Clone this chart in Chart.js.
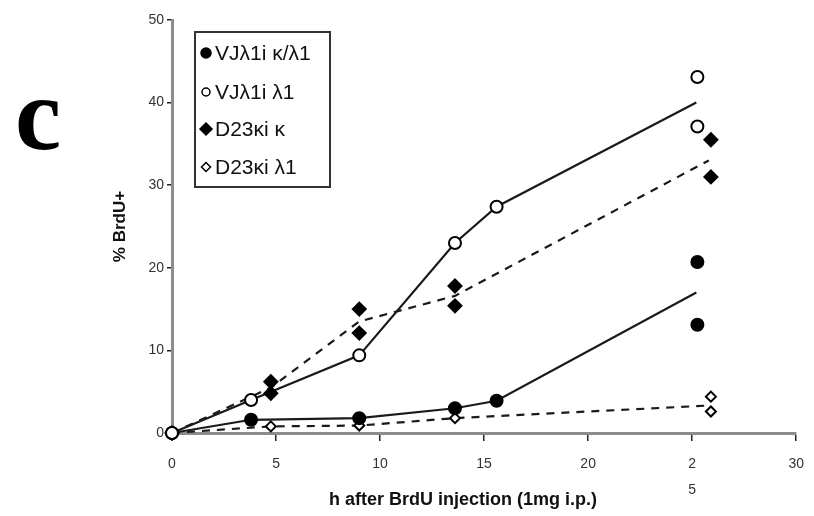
<!DOCTYPE html>
<html>
<head>
<meta charset="utf-8">
<script src="https://cdn.jsdelivr.net/npm/chart.js@4.4.0/dist/chart.umd.js"></script>
<style>
  body { margin: 0; background: #fff; }
  .wrap { position: relative; width: 814px; height: 516px; }
</style>
</head>
<body>
<div class="wrap"><canvas id="chart" width="814" height="516"></canvas></div>
<script>
// hours after BrdU injection, and % BrdU+
const vjKL_x = [0, 3.8, 9, 13.6, 15.6, 25.25, 25.25];
const vjKL_y = [0, 1.6, 1.8, 3.0, 3.9, 20.7, 13.1];
const vjKL_lineX = [0, 3.8, 9, 13.6, 15.6, 25.2];
const vjKL_lineY = [0, 1.6, 1.8, 3.0, 3.9, 17.0];

const vjL_x = [0, 3.8, 9, 13.6, 15.6, 25.25, 25.25];
const vjL_y = [0, 4.0, 9.4, 23.0, 27.4, 43.1, 37.1];
const vjL_lineX = [0, 3.8, 9, 13.6, 15.6, 25.2];
const vjL_lineY = [0, 4.0, 9.4, 23.0, 27.4, 40.0];

const d23K_x = [0, 4.75, 4.75, 9, 9, 13.6, 13.6, 25.9, 25.9];
const d23K_y = [0, 6.2, 4.8, 15.0, 12.1, 17.8, 15.4, 35.5, 31.0];
const d23K_lineX = [0, 4.75, 9, 13.6, 25.8];
const d23K_lineY = [0, 5.5, 13.5, 16.6, 33.0];

const d23L_x = [0, 4.75, 9, 13.6, 25.9, 25.9];
const d23L_y = [0, 0.8, 0.9, 1.8, 4.4, 2.6];
const d23L_lineX = [0, 4.75, 9, 13.6, 25.6];
const d23L_lineY = [0, 0.8, 0.9, 1.8, 3.3];

const seriesNames = ['VJλ1i κ/λ1', 'VJλ1i λ1', 'D23κi κ', 'D23κi λ1'];
const xTicks = [0, 5, 10, 15, 20, 25, 30];
const yTicks = [0, 10, 20, 30, 40, 50];

const pts = (xs, ys) => xs.map((x, i) => ({x, y: ys[i]}));

const lineSet = (xs, ys, dash) => ({
  data: pts(xs, ys),
  showLine: true,
  borderColor: '#1a1a1a',
  borderWidth: 2.2,
  borderDash: dash,
  pointRadius: 0,
  fill: false,
  clip: false,
  order: 5,
});

const markerSet = (label, xs, ys, style, fill, radius, order) => ({
  label,
  data: pts(xs, ys),
  showLine: false,
  pointStyle: style,
  pointRadius: radius,
  pointBackgroundColor: fill,
  pointBorderColor: '#000',
  pointBorderWidth: 2,
  clip: false,
  order,
});

// legend box, panel letter and x title drawn on the canvas
const extras = {
  id: 'extras',
  afterDraw(chart) {
    const ctx = chart.ctx;
    ctx.save();
    // panel letter
    ctx.fillStyle = '#000';
    ctx.font = 'bold 104px "Liberation Serif", "Times New Roman", serif';
    ctx.textAlign = 'left';
    ctx.textBaseline = 'alphabetic';
    ctx.fillText('c', 15, 149);

    // x axis title
    ctx.font = 'bold 18px "Liberation Sans", Arial, sans-serif';
    ctx.textAlign = 'center';
    ctx.textBaseline = 'middle';
    ctx.fillStyle = '#111';
    ctx.fillText('h after BrdU injection (1mg i.p.)', 463, 500);

    // legend
    ctx.fillStyle = '#fff';
    ctx.fillRect(195, 32, 135, 155);
    ctx.strokeStyle = '#333';
    ctx.lineWidth = 2;
    ctx.strokeRect(195, 32, 135, 155);
    const rows = [53, 92, 129, 167];
    const styles = [
      ['circle', '#000', 5],
      ['circle', '#fff', 4],
      ['rectRot', '#000', 6],
      ['rectRot', '#fff', 4.5],
    ];
    rows.forEach((y, i) => {
      const [st, fill, r] = styles[i];
      ctx.fillStyle = fill;
      ctx.strokeStyle = '#000';
      ctx.lineWidth = 1.5;
      Chart.helpers.drawPoint(ctx, {pointStyle: st, radius: r, borderWidth: 1.5}, 206, y);
      ctx.fillStyle = '#111';
      ctx.font = '21px "Liberation Sans", Arial, sans-serif';
      ctx.textAlign = 'left';
      ctx.textBaseline = 'middle';
      ctx.fillText(seriesNames[i], 215, y + 1);
    });
    ctx.restore();
  },
};

const ctx = document.getElementById('chart').getContext('2d');
new Chart(ctx, {
  type: 'scatter',
  data: {
    datasets: [
      lineSet(vjL_lineX, vjL_lineY, []),
      lineSet(vjKL_lineX, vjKL_lineY, []),
      lineSet(d23K_lineX, d23K_lineY, [8, 7]),
      lineSet(d23L_lineX, d23L_lineY, [8, 7]),
      markerSet(seriesNames[3], d23L_x, d23L_y, 'rectRot', '#fff', 5, 4),
      markerSet(seriesNames[2], d23K_x, d23K_y, 'rectRot', '#000', 6.5, 3),
      markerSet(seriesNames[0], vjKL_x, vjKL_y, 'circle', '#000', 6, 2),
      markerSet(seriesNames[1], vjL_x, vjL_y, 'circle', '#fff', 6, 1),
    ],
  },
  options: {
    responsive: false,
    animation: false,
    layout: {padding: {left: 0, right: 10, top: 20, bottom: 0}},
    plugins: {
      legend: {display: false},
      tooltip: {enabled: false},
    },
    scales: {
      x: {
        type: 'linear',
        min: 0,
        max: 30,
        afterFit: s => { s.height = 83; },
        afterBuildTicks: s => { s.ticks = xTicks.map(v => ({value: v})); },
        border: {color: '#8c8c8c', width: 3},
        grid: {drawOnChartArea: false, drawTicks: true, tickLength: 8, color: '#222', lineWidth: 1.5},
        ticks: {
          padding: 10,
          color: '#333',
          font: {family: '"Liberation Sans", Arial, sans-serif', size: 14, lineHeight: 1.86},
          callback: v => (v === 25 ? ['2', '5'] : String(v)),
        },
      },
      y: {
        type: 'linear',
        min: 0,
        max: 50,
        afterFit: s => { s.width = 172; },
        afterBuildTicks: s => { s.ticks = yTicks.map(v => ({value: v})); },
        border: {color: '#8c8c8c', width: 3},
        grid: {drawOnChartArea: false, drawTicks: true, tickLength: 5, color: '#222', lineWidth: 1.5},
        ticks: {
          padding: 3,
          color: '#333',
          font: {family: '"Liberation Sans", Arial, sans-serif', size: 14},
        },
        title: {
          display: true,
          text: '% BrdU+',
          color: '#111',
          font: {family: '"Liberation Sans", Arial, sans-serif', size: 17, weight: 'bold'},
          padding: {top: 110, bottom: 0},
        },
      },
    },
  },
  plugins: [extras],
});
</script>
</body>
</html>
